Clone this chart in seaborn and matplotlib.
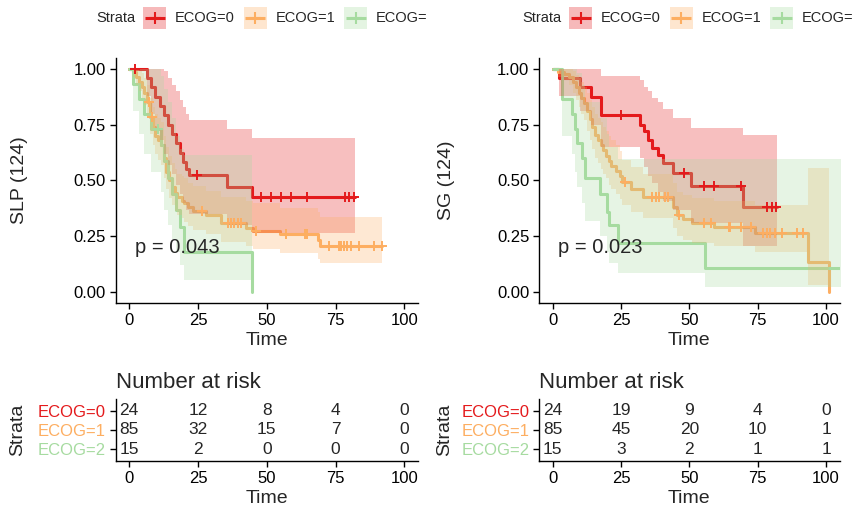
import numpy as np
import matplotlib
matplotlib.use("Agg")
import matplotlib.pyplot as plt
from matplotlib.patches import Rectangle
import seaborn as sns

# ---------------- data ----------------
strata = ["ECOG=0", "ECOG=1", "ECOG=2"]
strata_colors = ["#E41A1C", "#FDAE61", "#A6DBA0"]

# SLP: Kaplan-Meier step values (time, survival, lower / upper 95% CI), end of follow-up, censor times
slp_e0_time = [0, 6.3, 8.0, 9.5, 11.0, 12.5, 14.0, 15.5, 17.0, 18.5, 19.5, 20.5, 21.6, 35.4, 44.7]
slp_e0_surv = [1.0, 0.958, 0.917, 0.875, 0.833, 0.792, 0.750, 0.708, 0.667, 0.625, 0.583, 0.550, 0.525, 0.472, 0.427]
slp_e0_low = [1.0, 0.88, 0.80, 0.73, 0.68, 0.62, 0.57, 0.53, 0.48, 0.44, 0.40, 0.37, 0.35, 0.30, 0.266]
slp_e0_up = [1.0, 1.0, 1.0, 1.0, 1.0, 0.99, 0.96, 0.93, 0.90, 0.86, 0.83, 0.80, 0.771, 0.731, 0.689]
slp_e0_end = 82.2
slp_e0_cens = [2.0, 24.6, 47.9, 51.4, 55.0, 58.9, 64.5, 78.4, 80.0, 81.8]

slp_e1_time = [0, 1.5, 2.5, 3.5, 4.5, 5.5, 6.5, 7.6, 8.5, 9.5, 10.5, 11.5, 12.5, 13.5, 14.5, 15.5,
               16.5, 17.5, 19.0, 20.0, 21.5, 23.0, 28.0, 33.5, 42.6, 45.0, 54.8, 68.7, 69.3]
slp_e1_surv = [1.0, 0.988, 0.965, 0.941, 0.918, 0.894, 0.853, 0.783, 0.74, 0.70, 0.68, 0.66, 0.60, 0.54, 0.50, 0.47,
               0.445, 0.425, 0.41, 0.398, 0.38, 0.365, 0.345, 0.308, 0.286, 0.274, 0.259, 0.235, 0.208]
slp_e1_low = [1.0, 0.965, 0.93, 0.90, 0.87, 0.84, 0.79, 0.71, 0.66, 0.62, 0.59, 0.57, 0.51, 0.46, 0.42, 0.39,
              0.365, 0.345, 0.33, 0.315, 0.295, 0.28, 0.26, 0.225, 0.205, 0.193, 0.176, 0.15, 0.129]
slp_e1_up = [1.0, 1.0, 1.0, 0.99, 0.98, 0.96, 0.93, 0.87, 0.83, 0.80, 0.78, 0.76, 0.70, 0.65, 0.61, 0.58,
             0.55, 0.53, 0.52, 0.51, 0.49, 0.475, 0.455, 0.425, 0.41, 0.398, 0.375, 0.36, 0.338]
slp_e1_end = 92.0
slp_e1_cens = [7.0, 8.1, 26.3, 35.8, 37.0, 38.2, 39.4, 40.6, 46.2, 57.1, 64.0, 64.6, 72.5,
               76.3, 76.9, 78.1, 79.2, 80.5, 83.5, 89.0, 92.0]

slp_e2_time = [0, 1.5, 3.5, 5.5, 8.0, 11.5, 12.8, 14.0, 15.5, 17.0, 18.3, 19.8, 44.7]
slp_e2_surv = [1.0, 0.933, 0.867, 0.80, 0.733, 0.66, 0.587, 0.513, 0.44, 0.367, 0.293, 0.178, 0.0]
slp_e2_low = [1.0, 0.81, 0.71, 0.62, 0.54, 0.45, 0.37, 0.30, 0.24, 0.18, 0.12, 0.054, np.nan]
slp_e2_up = [1.0, 1.0, 1.0, 1.0, 1.0, 0.97, 0.91, 0.85, 0.78, 0.70, 0.64, 0.614, np.nan]
slp_e2_end = 44.7
slp_e2_cens = [10.3]

# SG
sg_e0_time = [0, 2.4, 9.9, 14.1, 17.8, 32.0, 33.5, 35.0, 36.5, 38.5, 40.5, 44.1, 50.7, 69.5]
sg_e0_surv = [1.0, 0.958, 0.917, 0.875, 0.794, 0.75, 0.72, 0.682, 0.645, 0.614, 0.577, 0.532, 0.477, 0.382]
sg_e0_low = [1.0, 0.88, 0.81, 0.75, 0.65, 0.60, 0.56, 0.52, 0.49, 0.45, 0.41, 0.37, 0.31, 0.208]
sg_e0_up = [1.0, 1.0, 1.0, 1.0, 0.97, 0.95, 0.92, 0.90, 0.87, 0.85, 0.82, 0.78, 0.734, 0.704]
sg_e0_end = 82.2
sg_e0_cens = [25.1, 48.2, 55.3, 59.1, 68.9, 78.5, 80.1, 81.8]

sg_e1_time = [0, 2.0, 4.0, 6.0, 7.5, 8.5, 9.5, 10.5, 11.5, 12.5, 13.5, 14.5, 15.5, 16.5, 17.5, 18.5,
              19.5, 20.5, 21.5, 23.0, 24.5, 25.5, 28.5, 33.0, 44.1, 45.4, 47.5, 51.0, 59.2, 74.0, 93.3, 101.1]
sg_e1_surv = [1.0, 0.988, 0.976, 0.965, 0.941, 0.918, 0.894, 0.871, 0.847, 0.812, 0.776, 0.741, 0.706, 0.682, 0.659, 0.635,
              0.612, 0.588, 0.565, 0.541, 0.518, 0.494, 0.46, 0.427, 0.383, 0.345, 0.326, 0.308, 0.293, 0.266, 0.133, 0.0]
sg_e1_low = [1.0, 0.965, 0.95, 0.93, 0.89, 0.86, 0.83, 0.80, 0.77, 0.72, 0.68, 0.64, 0.60, 0.58, 0.55, 0.53,
             0.51, 0.48, 0.46, 0.44, 0.415, 0.39, 0.36, 0.33, 0.285, 0.25, 0.235, 0.22, 0.205, 0.18, 0.031, np.nan]
sg_e1_up = [1.0, 1.0, 1.0, 1.0, 0.99, 0.975, 0.96, 0.94, 0.92, 0.89, 0.86, 0.83, 0.80, 0.78, 0.76, 0.74,
            0.72, 0.70, 0.68, 0.66, 0.63, 0.59, 0.56, 0.53, 0.49, 0.45, 0.435, 0.42, 0.41, 0.39, 0.555, np.nan]
sg_e1_end = 101.1
sg_e1_cens = [26.5, 36.5, 37.8, 39.0, 41.0, 42.3, 46.2, 55.3, 58.0, 64.4, 65.0, 68.8, 72.7,
              77.1, 78.3, 79.5, 81.3, 84.0, 89.2, 91.7]

sg_e2_time = [0, 3.3, 7.0, 8.2, 8.9, 10.6, 11.8, 17.2, 19.7, 20.6, 23.8, 55.7]
sg_e2_surv = [1.0, 0.867, 0.80, 0.733, 0.667, 0.60, 0.51, 0.44, 0.36, 0.30, 0.221, 0.11]
sg_e2_low = [1.0, 0.70, 0.62, 0.54, 0.47, 0.40, 0.32, 0.25, 0.18, 0.13, 0.084, 0.024]
sg_e2_up = [1.0, 1.0, 1.0, 1.0, 0.98, 0.93, 0.85, 0.78, 0.71, 0.65, 0.595, 0.595]
sg_e2_end = 110.0
sg_e2_cens = []

# number at risk
risk_times = [0, 25, 50, 75, 100]
slp_risk = [[24, 12, 8, 4, 0], [85, 32, 15, 7, 0], [15, 2, 0, 0, 0]]
sg_risk = [[24, 19, 9, 4, 0], [85, 45, 20, 10, 1], [15, 3, 2, 1, 1]]

time_ticks = [0, 25, 50, 75, 100]
surv_ticks = [0.0, 0.25, 0.50, 0.75, 1.0]
surv_tick_labels = ["0.00", "0.25", "0.50", "0.75", "1.00"]

panels = [
    dict(ylabel="SLP (124)", pval="p = 0.043", risk=slp_risk,
         curves=[(slp_e0_time, slp_e0_surv, slp_e0_low, slp_e0_up, slp_e0_end, slp_e0_cens),
                 (slp_e1_time, slp_e1_surv, slp_e1_low, slp_e1_up, slp_e1_end, slp_e1_cens),
                 (slp_e2_time, slp_e2_surv, slp_e2_low, slp_e2_up, slp_e2_end, slp_e2_cens)]),
    dict(ylabel="SG (124)", pval="p = 0.023", risk=sg_risk,
         curves=[(sg_e0_time, sg_e0_surv, sg_e0_low, sg_e0_up, sg_e0_end, sg_e0_cens),
                 (sg_e1_time, sg_e1_surv, sg_e1_low, sg_e1_up, sg_e1_end, sg_e1_cens),
                 (sg_e2_time, sg_e2_surv, sg_e2_low, sg_e2_up, sg_e2_end, sg_e2_cens)]),
]

# ---------------- style ----------------
sns.set_theme(style="ticks")
plt.rcParams["font.family"] = ["Liberation Sans", "DejaVu Sans"]
plt.rcParams["axes.linewidth"] = 1.0
plt.rcParams["xtick.color"] = "black"
plt.rcParams["ytick.color"] = "black"
plt.rcParams["axes.edgecolor"] = "black"

W, H = 852, 508
fig = plt.figure(figsize=(W / 100, H / 100), dpi=100)


def box(x0, y0, x1, y1):
    return [x0 / W, 1 - y1 / H, (x1 - x0) / W, (y1 - y0) / H]


def style_axis(ax):
    sns.despine(ax=ax)
    ax.tick_params(axis="both", length=4, width=1, labelsize=12, pad=3, colors="black")
    ax.set_xlim(-5, 105)
    ax.set_xticks(time_ticks)


def draw_curve(ax, time, surv, low, up, end, cens, color):
    time = np.asarray(time, float)
    surv = np.asarray(surv, float)
    low = np.asarray(low, float)
    up = np.asarray(up, float)
    # survival step line
    lt, ls = time, surv
    if end > time[-1]:
        lt = np.append(time, end)
        ls = np.append(surv, surv[-1])
    sns.lineplot(x=lt, y=ls, ax=ax, color=color, lw=2.2, drawstyle="steps-post",
                 estimator=None, sort=False, legend=False, zorder=1)
    return time, surv, low, up, end, cens, color


def draw_band(ax, time, surv, low, up, end, cens, color):
    ok = ~np.isnan(low)
    bt, bl, bu = time[ok], low[ok], up[ok]
    last = np.where(ok)[0][-1]
    stop = time[last + 1] if last + 1 < len(time) else end
    ax.fill_between(np.append(bt, stop), np.append(bl, bl[-1]), np.append(bu, bu[-1]),
                    step="post", color=color, alpha=0.28, lw=0, zorder=2)


def draw_censors(ax, time, surv, low, up, end, cens, color):
    if len(cens) == 0:
        return
    c = np.asarray(cens, float)
    idx = np.searchsorted(time, c, side="right") - 1
    ax.plot(c, surv[idx], ls="none", marker="+", ms=7.5, mew=1.4, color=color, zorder=3)


main_boxes = [box(115.5, 57.8, 418, 303.2), box(539, 57.8, 839.7, 303.2)]
table_boxes = [box(115.5, 399, 418, 461), box(539, 399, 839.7, 461)]
header_boxes = [box(0, 0, 426, 40), box(426, 0, 852, 40)]
ylabel_x = [-0.29, -0.28]
strata_x = [-0.295, -0.285]

for p, panel in enumerate(panels):
    # ---- survival curves ----
    ax = fig.add_axes(main_boxes[p])
    drawn = [draw_curve(ax, *cv, strata_colors[i]) for i, cv in enumerate(panel["curves"])]
    for d in drawn:
        draw_band(ax, *d)
    for d in drawn:
        draw_censors(ax, *d)
    style_axis(ax)
    ax.set_ylim(-0.05, 1.05)
    ax.set_yticks(surv_ticks)
    ax.set_yticklabels(surv_tick_labels)
    ax.set_xlabel("Time", fontsize=14, labelpad=3)
    ax.set_ylabel(panel["ylabel"], fontsize=14)
    ax.yaxis.set_label_coords(ylabel_x[p], 0.5)
    ax.text(2, 0.2, panel["pval"], fontsize=14.5, ha="left", va="center", zorder=4)

    # ---- number-at-risk table ----
    tx = fig.add_axes(table_boxes[p])
    for i, row in enumerate(panel["risk"]):
        for t, n in zip(risk_times, row):
            tx.text(t, 3 - i, str(n), ha="center", va="center", fontsize=12.5)
    style_axis(tx)
    tx.set_ylim(0.4, 3.6)
    tx.set_yticks([3, 2, 1])
    tx.set_yticklabels(strata)
    for lab, col in zip(tx.get_yticklabels(), strata_colors):
        lab.set_color(col)
    tx.set_xlabel("Time", fontsize=14, labelpad=3)
    tx.set_ylabel("Strata", fontsize=14)
    tx.yaxis.set_label_coords(strata_x[p], 0.5)
    tx.set_title("Number at risk", loc="left", fontsize=16, pad=8)

    # ---- legend strip (cut at the panel edge) ----
    hx = fig.add_axes(header_boxes[p])
    hx.set_xlim(0, 426)
    hx.set_ylim(40, 0)
    hx.axis("off")
    hx.text(96, 18.5, "Strata", fontsize=10.5, ha="left", va="center", clip_on=True)
    for i, (name, col) in enumerate(zip(strata, strata_colors)):
        kx = 143 + 100.5 * i
        hx.add_patch(Rectangle((kx, 7), 23, 22, facecolor=col, alpha=0.3, lw=0))
        hx.plot([kx + 1.5, kx + 21.5], [18, 18], color=col, lw=2.2, solid_capstyle="butt")
        hx.plot([kx + 11.5], [18], marker="+", ms=8, mew=1.5, color=col)
        hx.text(kx + 32, 18.5, name, fontsize=10.5, ha="left", va="center", clip_on=True)

fig.savefig("out.png", dpi=100)
